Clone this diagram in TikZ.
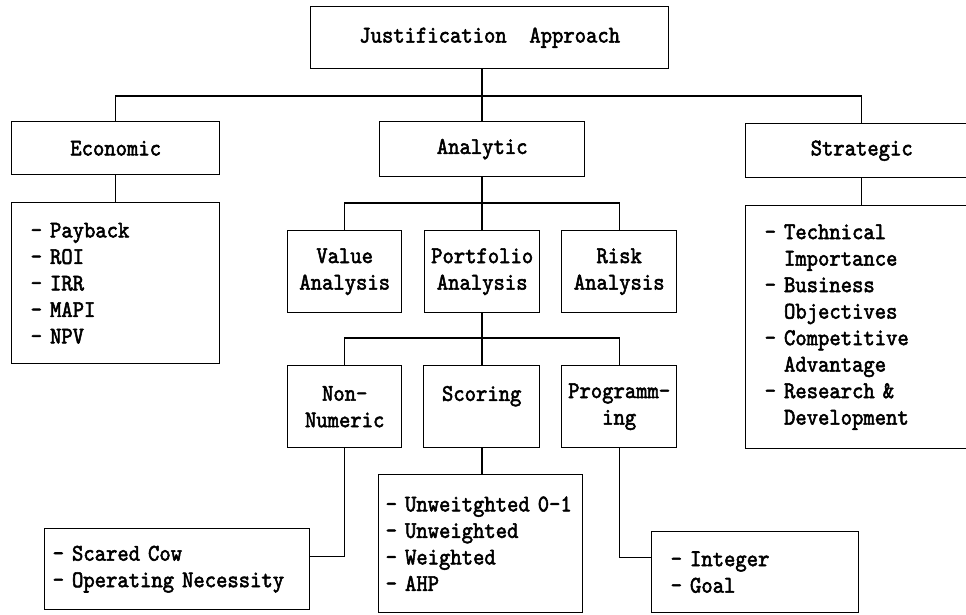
\documentclass[tikz,border=0pt]{standalone}
\usepackage{fontspec}
\newfontfamily\tw[FakeStretch=0.9,FakeBold=2.2]{lmmono10-regular.otf}
\begin{document}
\begin{tikzpicture}[x=1pt,y=-1pt,
  every node/.style={font=\tw\fontsize{24}{26.5}\selectfont},
  hbox/.style={draw, line width=1.4pt, anchor=north west, inner sep=0pt, align=center},
  lbox/.style={draw, line width=1.4pt, anchor=north west, inner ysep=0pt, align=left},
  conn/.style={line width=1.4pt}]
\useasboundingbox (0,0) rectangle (966,614);
% level 0
\node[hbox, minimum width=358pt, minimum height=62pt] (top) at (310,6) {Justification~~Approach};
% level 1
\node[hbox, minimum width=208pt, minimum height=53pt] (econ) at (11,121) {Economic};
\node[hbox, minimum width=205pt, minimum height=55pt] (anal) at (379,121) {Analytic};
\node[hbox, minimum width=232pt, minimum height=54pt] (strat) at (745,123) {Strategic};
% economic list
\node[lbox, inner xsep=19pt, text width=170pt, minimum height=161pt] (econlist) at (11,202)
  {- Payback\\- ROI\\- IRR\\- MAPI\\- NPV};
% strategic list
\node[lbox, inner xsep=19pt, text width=195pt, minimum height=243pt] (stratlist) at (745,205)
  {- Technical\\\hphantom{-~}Importance\\- Business\\\hphantom{-~}Objectives\\- Competitive\\\hphantom{-~}Advantage\\- Research \&\\\hphantom{-~}Development};
% analytic children
\node[hbox, minimum width=114pt, minimum height=82pt] (value) at (287,230) {Value\\Analysis};
\node[hbox, minimum width=115pt, minimum height=82pt] (port) at (424,230) {Portfolio\\Analysis};
\node[hbox, minimum width=115pt, minimum height=82pt] (risk) at (561,230) {Risk\\Analysis};
% portfolio children
\node[hbox, minimum width=114pt, minimum height=82pt] (nonnum) at (287,365) {Non-\\Numeric};
\node[hbox, minimum width=116pt, minimum height=82pt] (scoring) at (423,365) {Scoring\\\mbox{}};
\node[hbox, minimum width=115pt, minimum height=82pt] (prog) at (561,365) {Programm-\\ing};
% lists at bottom
\node[lbox, inner xsep=8pt, text width=249pt, minimum height=81pt] (scared) at (44,528)
  {- Scared Cow\\- Operating Necessity};
\node[lbox, inner xsep=7pt, text width=190pt, minimum height=138pt] (scorelist) at (378,474)
  {- Unweitghted 0-1\\- Unweighted\\- Weighted\\- AHP};
\node[lbox, inner xsep=19pt, text width=169pt, minimum height=81pt] (goal) at (651,531)
  {- Integer\\- Goal};
% connectors
\coordinate (bus1) at (482,96);
\coordinate (bus2) at (482,203);
\coordinate (bus3) at (482,338);
\draw[conn] (top.south -| bus1) -- (bus1);
\draw[conn] (econ.north) |- (bus1) -| (strat.north);
\draw[conn] (bus1) -- (anal.north -| bus1);
\draw[conn] (econ.south) -- (econ.south |- econlist.north);
\draw[conn] (strat.south) -- (strat.south |- stratlist.north);
\draw[conn] (anal.south -| bus2) -- (bus2);
\draw[conn] (value.north) |- (bus2) -| (risk.north);
\draw[conn] (bus2) -- (port.north -| bus2);
\draw[conn] (port.south -| bus3) -- (bus3);
\draw[conn] (nonnum.north) |- (bus3) -| (prog.north);
\draw[conn] (bus3) -- (scoring.north -| bus3);
\draw[conn] (scoring.south -| bus3) -- (scorelist.north -| bus3);
\draw[conn] (nonnum.south) |- ([yshift=12.5pt]scared.east);
\draw[conn] (prog.south) |- ([yshift=14.5pt]goal.west);
\end{tikzpicture}
\end{document}
